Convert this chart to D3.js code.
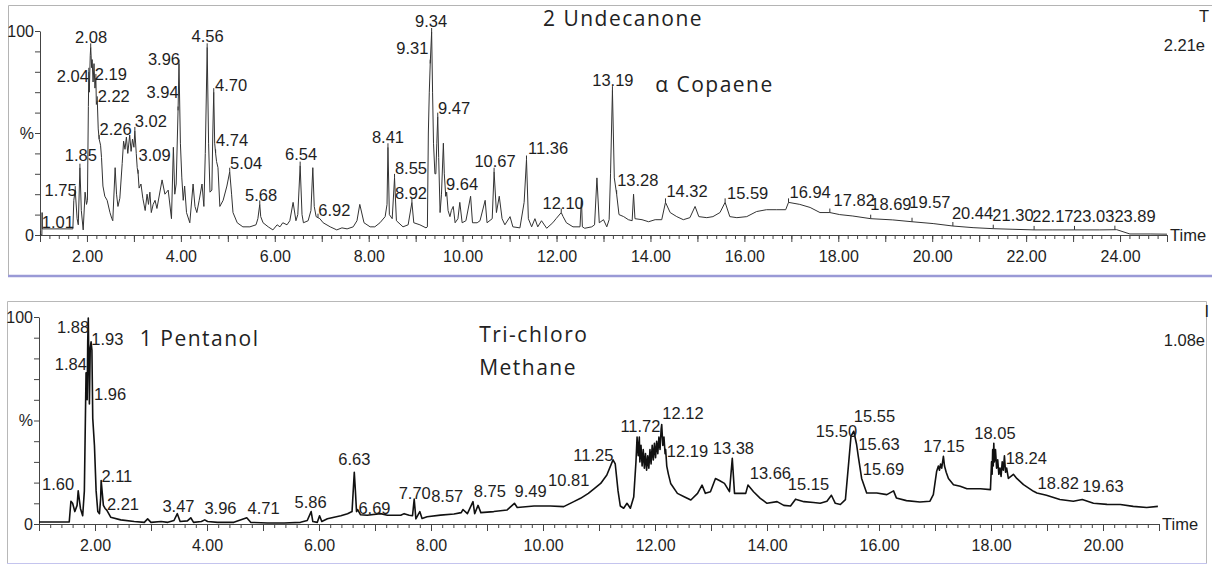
<!DOCTYPE html>
<html>
<head>
<meta charset="utf-8">
<script src="https://cdn.jsdelivr.net/npm/d3@7"></script>
<style>
  body { margin: 0; background: #fff; }
  .axis text { font-family: "Liberation Sans", Arial, sans-serif; font-size: 16px; fill: #1e1e1e; }
  .axis path, .axis line { stroke: #444; stroke-width: 1; }
  .peak { font-family: "Liberation Sans", Arial, sans-serif; font-size: 16.5px; fill: #1e1e1e; text-anchor: middle; }
  .note { font-family: "Open Sans", sans-serif; font-size: 21px; fill: #222; letter-spacing: 1.5px; }
</style>
</head>
<body>
<svg id="chart"></svg>
<script>
// upper chromatogram: [time (min), intensity (%)]
const topTrace = [[1.00,0],[1.04,0],[1.045,11],[1.05,3],[1.70,3],[1.72,17],[1.75,22],[1.79,8],[1.815,5],[1.85,33],[1.88,12],[1.92,2.5],[1.96,21],[1.99,15],[2.01,17],[2.03,63],[2.04,80],[2.05,70],[2.07,88],[2.08,92],[2.10,82],[2.11,86],[2.13,75],[2.15,84],[2.17,72],[2.19,77],[2.20,64],[2.22,66],[2.24,52],[2.26,47],[2.29,44],[2.31,38],[2.34,24],[2.38,19],[2.43,17],[2.49,11],[2.53,8],[2.55,7],[2.60,33],[2.63,20],[2.66,14],[2.70,18],[2.75,35],[2.78,46],[2.81,42],[2.84,48],[2.87,40],[2.91,49],[2.94,41],[2.97,47],[3.00,43],[3.02,51],[3.05,40],[3.07,33],[3.09,30],[3.11,23],[3.15,25],[3.19,18],[3.24,12],[3.28,20],[3.31,15],[3.34,21],[3.37,11],[3.41,15],[3.45,17],[3.49,13],[3.60,27],[3.66,20],[3.73,22],[3.80,8],[3.84,43],[3.87,20],[3.90,25],[3.94,61],[3.96,84],[3.99,45],[4.02,28],[4.05,17],[4.08,24],[4.12,11],[4.19,6],[4.26,25],[4.30,14],[4.34,11],[4.39,17],[4.45,25],[4.49,14],[4.52,40],[4.56,92],[4.59,45],[4.62,21],[4.66,22],[4.68,50],[4.70,70],[4.72,45],[4.74,40],[4.76,36],[4.79,33],[4.83,14],[4.90,17],[4.98,24],[5.04,31],[5.08,20],[5.11,11],[5.20,6],[5.32,4],[5.47,4],[5.60,5],[5.64,8],[5.68,15],[5.70,9],[5.75,6],[5.86,4],[5.96,2.5],[6.05,5],[6.11,4],[6.17,6],[6.26,5],[6.32,7],[6.39,16],[6.45,7],[6.49,10],[6.54,34],[6.58,10],[6.61,6],[6.71,7],[6.77,12],[6.81,33],[6.84,14],[6.88,9],[6.92,8.5],[6.96,8],[7.03,6],[7.18,4],[7.32,2.5],[7.43,3.5],[7.54,3],[7.67,4],[7.75,7],[7.81,15],[7.90,6],[8.03,4],[8.13,4],[8.24,6],[8.35,9],[8.39,15],[8.41,43],[8.44,10],[8.50,8],[8.55,28],[8.59,7],[8.73,4],[8.84,5],[8.92,16],[8.96,6],[9.09,5],[9.22,3.5],[9.25,4],[9.27,50],[9.29,70],[9.31,84],[9.34,99.5],[9.36,70],[9.38,45],[9.41,30],[9.43,30],[9.45,45],[9.47,58],[9.49,38],[9.52,11],[9.55,20],[9.59,45],[9.61,30],[9.64,19],[9.66,21],[9.69,12],[9.73,9],[9.76,12],[9.80,14],[9.84,6],[9.90,8],[9.94,16],[9.99,6],[10.07,7],[10.17,19],[10.21,6],[10.31,6],[10.37,7],[10.48,17],[10.52,6],[10.63,8],[10.67,31],[10.72,11],[10.78,19],[10.84,8],[10.90,5],[11.01,9],[11.07,4],[11.22,3.5],[11.31,16],[11.36,37],[11.40,8],[11.47,4],[11.54,8],[11.60,4],[11.68,7],[11.79,3.3],[11.92,6],[11.99,8],[12.10,11],[12.14,9],[12.21,6],[12.35,4],[12.50,4],[12.53,18],[12.55,4],[12.60,3.3],[12.75,4],[12.81,5],[12.86,28],[12.91,6],[13.00,7.5],[13.07,4],[13.12,7.5],[13.15,30],[13.19,71],[13.23,28],[13.28,20],[13.33,10],[13.43,9],[13.53,7.5],[13.61,7],[13.64,20],[13.67,8],[13.82,7.5],[13.96,6.5],[14.10,7.5],[14.24,7.5],[14.32,16],[14.42,11],[14.56,9],[14.70,7.5],[14.84,8.5],[14.95,14],[15.03,9],[15.20,8.5],[15.33,9],[15.48,11],[15.59,16],[15.69,9],[15.84,8.5],[16.05,9],[16.26,11.5],[16.47,12.4],[16.69,12.4],[16.88,12.4],[16.94,16],[17.18,15],[17.40,13.5],[17.61,11],[17.82,11],[18.03,10],[18.31,9.3],[18.69,8],[19.16,7.4],[19.57,6.5],[20.02,5.6],[20.44,4.4],[20.87,3.6],[21.30,3.1],[21.72,2.8],[22.17,2.5],[22.57,2.5],[23.03,2.5],[23.57,2.5],[23.93,2.6],[24.21,0.5],[24.64,0.5],[25.00,0.4]];

// upper peak labels: [text, label centre time, label centre %]
const topPeaks = [["1.01",1.38,6.4],["1.75",1.44,22],["1.85",1.87,39],["2.04",1.70,78],["2.08",2.09,97],["2.19",2.51,79],["2.22",2.57,68],["2.26",2.61,52],["3.02",3.36,56],["3.09",3.44,39],["3.94",3.61,70],["3.96",3.64,86],["4.56",4.57,97.5],["4.70",5.07,73.5],["4.74",5.09,46.6],["5.04",5.39,35],["5.68",5.71,19.6],["6.54",6.56,39.5],["6.92",7.27,12.3],["8.41",8.41,48],["8.55",8.90,32.7],["8.92",8.90,20.4],["9.31",8.93,91.8],["9.34",9.33,104.6],["9.47",9.82,62],["9.64",9.99,25],["10.67",10.69,36],["11.36",11.82,42.5],["12.10",12.14,15.5],["13.19",13.20,76],["13.28",13.73,27],["14.32",14.78,21.7],["15.59",16.07,20.7],["16.94",17.40,21.2],["17.82",18.34,17.2],["18.69",19.12,15.2],["19.57",19.95,16.3],["20.44",20.86,10.6],["21.30",21.72,9.8],["22.17",22.57,9.3],["23.03",23.44,9.3],["23.89",24.32,9.3]];

// lower chromatogram
const bottomTrace = [[1.00,1],[1.54,1],[1.57,11],[1.60,10],[1.64,6],[1.68,9],[1.70,16],[1.74,7.5],[1.78,4],[1.81,16],[1.84,73],[1.86,60],[1.87,88],[1.88,99.5],[1.90,58],[1.915,85],[1.93,88],[1.945,84],[1.96,51],[1.99,38],[2.02,16],[2.05,6],[2.08,5],[2.10,12],[2.11,21],[2.15,9],[2.18,7.5],[2.21,6.7],[2.28,3.3],[2.46,2],[2.70,1.2],[2.88,0.8],[2.94,2.5],[3.00,0.8],[3.18,1.2],[3.30,0.8],[3.41,1.7],[3.47,5],[3.52,1.2],[3.65,1.5],[3.71,3],[3.76,0.8],[3.90,1.2],[3.96,2],[4.01,1.2],[4.19,0.8],[4.48,0.8],[4.71,3],[4.78,0.8],[5.08,0.5],[5.38,0.5],[5.67,0.8],[5.79,1.7],[5.86,6],[5.89,1.2],[5.97,0.8],[6.01,4],[6.05,1.2],[6.15,2.5],[6.27,3.3],[6.39,4],[6.51,5],[6.59,6],[6.63,25],[6.65,16],[6.67,6],[6.69,7],[6.74,4.5],[6.86,4.2],[7.10,5],[7.22,4.2],[7.46,4.2],[7.52,5],[7.61,4.2],[7.67,4],[7.70,12],[7.73,2.5],[7.80,6],[7.84,2.7],[7.93,3.5],[8.17,4.3],[8.41,4.8],[8.54,5.5],[8.57,7],[8.65,5],[8.75,10.8],[8.78,5],[8.84,9],[8.89,5.5],[9.12,6],[9.36,6.8],[9.49,10],[9.54,8],[9.84,8.7],[10.13,8.7],[10.37,8.4],[10.55,10.8],[10.67,12.4],[10.81,14.8],[10.91,17],[11.03,19.6],[11.14,23.7],[11.25,31],[11.29,29],[11.34,16],[11.38,8.7],[11.44,7.6],[11.50,10],[11.56,7.6],[11.62,13],[11.66,30],[11.68,42],[11.70,33],[11.72,42],[11.73,30],[11.75,38],[11.77,28],[11.79,36],[11.81,27],[11.83,34],[11.85,26],[11.87,33],[11.89,27],[11.91,36],[11.93,29],[11.95,38],[11.97,31],[11.99,39],[12.01,32],[12.03,40],[12.05,34],[12.07,42],[12.09,36],[12.11,46],[12.12,48],[12.14,38],[12.16,42],[12.18,34],[12.19,36],[12.21,28],[12.24,24],[12.28,19.6],[12.40,14.8],[12.52,13.2],[12.64,11.6],[12.76,14.8],[12.84,18.8],[12.90,14.8],[12.99,15.6],[13.08,22],[13.15,21],[13.24,19.6],[13.33,15.6],[13.38,31.7],[13.42,14.8],[13.52,14.8],[13.62,14.8],[13.66,18.8],[13.76,15.6],[13.88,12.4],[14.00,10],[14.18,10.8],[14.30,9],[14.42,8.7],[14.51,12],[14.66,10.8],[14.83,10.4],[14.95,10],[15.07,11],[15.15,13.9],[15.22,10],[15.31,9.4],[15.40,11.8],[15.46,30],[15.50,42.4],[15.55,44.8],[15.60,38.4],[15.63,32.7],[15.69,22],[15.78,15],[15.96,15],[16.14,14.2],[16.26,16],[16.31,12.6],[16.49,11.3],[16.73,10.6],[16.91,11],[16.97,14.2],[17.03,25.5],[17.06,28],[17.08,26],[17.10,29],[17.12,27],[17.15,32.7],[17.17,28],[17.20,25],[17.24,22],[17.33,19],[17.45,18.2],[17.57,17],[17.81,17],[17.99,16.6],[18.01,30],[18.02,24],[18.03,36],[18.04,28],[18.05,39],[18.06,30],[18.08,36],[18.10,27],[18.12,31],[18.14,24],[18.16,27],[18.18,23],[18.20,30],[18.22,26],[18.24,33],[18.26,25],[18.28,27],[18.31,22],[18.40,24],[18.46,22],[18.58,19],[18.76,15.8],[18.82,15],[18.99,13.9],[19.23,11.8],[19.47,11],[19.63,11.8],[19.83,10],[20.07,9.5],[20.31,9.4],[20.54,8.5],[20.78,8],[20.98,8.5]];

const bottomPeaks = [["1.60",1.34,19],["1.88",1.61,95.3],["1.93",2.22,89.5],["1.84",1.57,77],["1.96",2.27,62.7],["2.11",2.39,23],["2.21",2.50,9.5],["3.47",3.49,8.5],["3.96",4.24,7.5],["4.71",5.01,7.5],["5.86",5.85,10.5],["6.63",6.63,31.5],["6.69",6.99,7.5],["7.70",7.71,15],["8.57",8.29,13.2],["8.75",9.05,15.6],["9.49",9.78,15.6],["10.81",10.46,21.3],["11.25",10.90,33.4],["11.72",11.74,47.4],["12.12",12.50,53.5],["12.19",12.58,35],["13.38",13.40,36.6],["13.66",14.06,24.5],["15.15",14.74,19],["15.50",15.24,44.8],["15.55",15.92,52],["15.63",16.0,38.4],["15.69",16.08,26.3],["17.15",17.16,37.6],["18.05",18.07,44],["18.24",18.63,32],["18.82",19.20,19.8],["19.63",20.0,18.2]];

// compound names written on each panel: [text, start time, %]
const topNotes = [["2 Undecanone",11.71,106],["α Copaene",14.10,73.5]];
const bottomNotes = [["1 Pentanol",2.80,89.5],["Tri-chloro",8.86,91.5],["Methane",8.86,75.3]];

const panels = [
  {trace: topTrace, peaks: topPeaks, notes: topNotes, xDomain: [1, 25], xRange: [40, 1167], yRange: [235, 31],
   scale: ["2.21e", 93], mark: ["T", 107], marker: true},
  {trace: bottomTrace, peaks: bottomPeaks, notes: bottomNotes, xDomain: [1, 21], xRange: [39, 1159], yRange: [524, 317],
   scale: ["1.08e", 89], mark: ["I", 103], marker: false}
];

const svg = d3.select('#chart').attr('width', 1212).attr('height', 566);

// panel frames
svg.append('path').attr('d', 'M8.5,276 V5.5 H1212').attr('fill', 'none').attr('stroke', '#b4b4b4');
svg.append('line').attr('x1', 8).attr('x2', 1212).attr('y1', 276).attr('y2', 276)
  .attr('stroke', '#9a9ad6').attr('stroke-width', 2.5);
svg.append('path').attr('d', 'M7.5,563 V301.5 H1206.5 V563').attr('fill', 'none').attr('stroke', '#b8b8b8');
svg.append('line').attr('x1', 7).attr('x2', 1207).attr('y1', 563.5).attr('y2', 563.5).attr('stroke', '#c4c4ee');

panels.forEach((p, i) => {
  const x = d3.scaleLinear().domain(p.xDomain).range(p.xRange);
  const y = d3.scaleLinear().domain([0, 100]).range(p.yRange);
  const g = svg.append('g');
  const base = p.yRange[0];

  const minor = d3.range(p.xDomain[0] * 5, p.xDomain[1] * 5 + 1).map(k => k / 5);
  const whole = d3.range(p.xDomain[0], p.xDomain[1] + 1);

  g.append('g').attr('class', 'axis').attr('transform', `translate(0,${base})`)
    .call(d3.axisBottom(x).tickValues(minor).tickSize(4).tickSizeOuter(0).tickFormat(''));
  g.append('g').attr('class', 'axis').attr('transform', `translate(0,${base})`)
    .call(d3.axisBottom(x).tickValues(whole).tickSize(7).tickSizeOuter(0)
      .tickPadding(9).tickFormat(d => d % 2 === 0 ? d.toFixed(2) : ''));
  g.append('g').attr('class', 'axis').attr('transform', `translate(${p.xRange[0]},0)`)
    .call(d3.axisLeft(y).tickValues(d3.range(0, 101, 10)).tickSize(5).tickSizeOuter(0).tickPadding(1)
      .tickFormat(d => d === 0 ? '0' : d === 50 ? '%' : d === 100 ? '100' : ''));

  g.append('text').attr('class', 'peak').attr('x', p.xRange[1] + 3).attr('y', base)
    .attr('dy', '0.35em').style('text-anchor', 'start').text('Time');

  g.append('text').attr('class', 'peak').attr('x', 1205).attr('y', y(p.scale[1])).attr('dy', '0.35em')
    .style('text-anchor', 'end').text(p.scale[0]);
  g.append('text').attr('class', 'peak').attr('x', 1209).attr('y', y(p.mark[1])).attr('dy', '0.35em')
    .style('text-anchor', 'end').text(p.mark[0]);

  const line = d3.line().x(d => x(d[0])).y(d => y(d[1]));
  g.append('path').datum(p.trace).attr('d', line).attr('fill', 'none')
    .attr('stroke', i === 0 ? '#333' : '#111').attr('stroke-width', i === 0 ? 1 : 1.6)
    .attr('stroke-linejoin', 'round');

  // small apex marks on the upper trace where each labelled peak sits
  if (p.marker) {
    const bis = d3.bisector(d => d[0]).center;
    g.selectAll('.apex').data(p.peaks).join('line')
      .attr('class', 'apex')
      .attr('x1', d => x(+d[0])).attr('x2', d => x(+d[0]))
      .attr('y1', d => y(p.trace[bis(p.trace, +d[0])][1]))
      .attr('y2', d => y(p.trace[bis(p.trace, +d[0])][1]) - 4)
      .attr('stroke', '#333');
  }

  g.selectAll('.peak-label').data(p.peaks).join('text')
    .attr('class', 'peak peak-label')
    .attr('x', d => x(d[1])).attr('y', d => y(d[2])).attr('dy', '0.35em')
    .text(d => d[0]);

  g.selectAll('.note').data(p.notes).join('text')
    .attr('class', 'note')
    .attr('x', d => x(d[1])).attr('y', d => y(d[2])).attr('dy', '0.35em')
    .text(d => d[0]);
});
</script>
</body>
</html>
